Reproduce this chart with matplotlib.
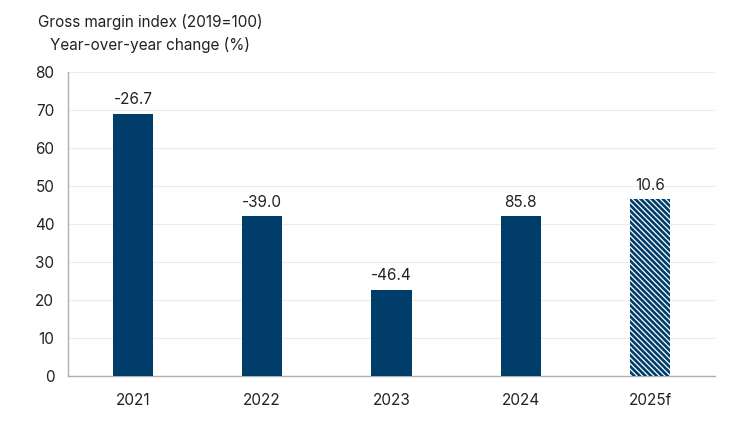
import numpy as np
import matplotlib.pyplot as plt

plt.rcParams['font.family'] = ['Inter', 'DejaVu Sans']
plt.rcParams['hatch.color'] = 'white'
plt.rcParams['hatch.linewidth'] = 0.9

years = ['2021', '2022', '2023', '2024', '2025f']
index_vals = [69.0, 42.0, 22.6, 42.0, 46.5]
yoy_labels = ['-26.7', '-39.0', '-46.4', '85.8', '10.6']

navy = '#003d6b'

fig = plt.figure(figsize=(7.5, 4.22), dpi=100)
ax = fig.add_axes([0.091, 0.109, 0.862, 0.72])

x = np.arange(len(years))
bars = ax.bar(x, index_vals, width=0.31, color=navy, zorder=3)
# forecast bar: navy with white diagonal hatching
bars[-1].set_hatch('\\' * 6)
bars[-1].set_edgecolor('white')
bars[-1].set_linewidth(0)

for xi, v, lab in zip(x, index_vals, yoy_labels):
    ax.text(xi, v + 1.8, lab, ha='center', va='bottom', fontsize=11, color='#222222')

ax.set_xlim(-0.5, 4.5)
ax.set_ylim(0, 80)
ax.set_yticks(range(0, 81, 10))
ax.set_xticks(x)
ax.set_xticklabels(years)
ax.tick_params(axis='both', length=0, labelsize=11, colors='#222222')
ax.tick_params(axis='x', pad=12)
ax.tick_params(axis='y', pad=10)
ax.grid(axis='y', color='#ebebeb', lw=0.8, zorder=0)
for s in ['top', 'right']:
    ax.spines[s].set_visible(False)
for s in ['left', 'bottom']:
    ax.spines[s].set_color('#b0b0b0')
    ax.spines[s].set_linewidth(1.0)

fig.text(0.2, 0.92, 'Gross margin index (2019=100)\nYear-over-year change (%)',
         ha='center', va='center', fontsize=11, color='#222222', linespacing=1.55)

fig.savefig('out.png', dpi=100)
